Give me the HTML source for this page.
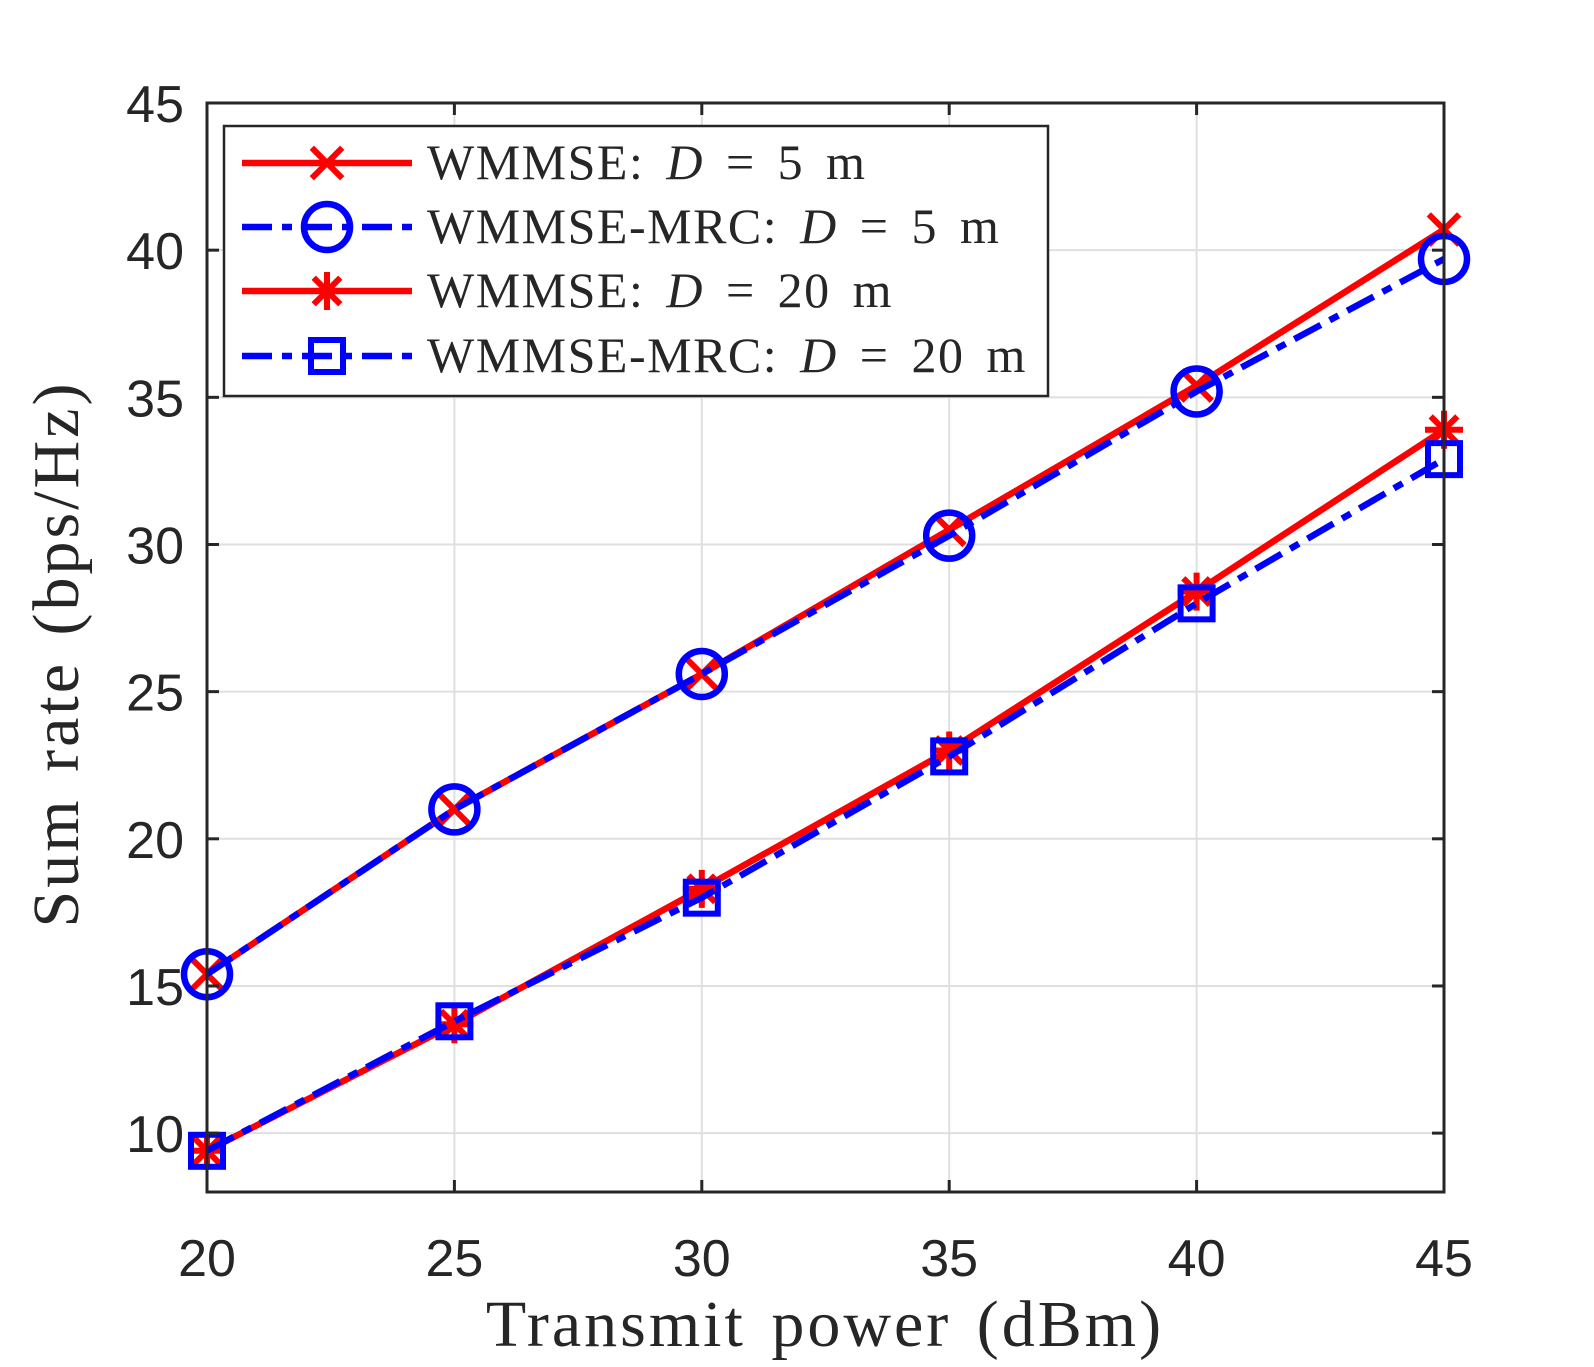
<!DOCTYPE html>
<html><head><meta charset="utf-8"><style>
html,body{margin:0;padding:0;background:#fff;}
svg{display:block;}
</style></head><body>
<svg id="chart" width="1594" height="1367" viewBox="0 0 1594 1367" xmlns="http://www.w3.org/2000/svg">
<rect width="1594" height="1367" fill="#fff"/>
<g id="grid"></g>
<g id="series"></g>
<rect x="207" y="103" width="1237" height="1089" fill="none" stroke="#262626" stroke-width="3"/>
<g id="ticks"></g>
<text x="825" y="1346" text-anchor="middle" font-family="Liberation Serif, serif" font-size="66" letter-spacing="3" word-spacing="6" fill="#262626">Transmit power (dBm)</text>
<text transform="translate(78,654) rotate(-90)" text-anchor="middle" font-family="Liberation Serif, serif" font-size="66" letter-spacing="3" word-spacing="6" fill="#262626">Sum rate (bps/Hz)</text>
<g id="legend"></g>
</svg>
<script>
const xValues=[20,25,30,35,40,45];
const wmmse5=[15.4,21.0,25.6,30.5,35.4,40.7];
const mrc5=[15.4,21.0,25.6,30.3,35.2,39.7];
const wmmse20=[9.4,13.7,18.3,23.0,28.4,33.9];
const mrc20=[9.4,13.8,18.0,22.8,28.0,32.9];
const xTicks=[20,25,30,35,40,45];
const yTicks=[10,15,20,25,30,35,40,45];
const seriesNames=["WMMSE: ","WMMSE-MRC: ","WMMSE: ","WMMSE-MRC: "];
const seriesD=["5","5","20","20"];

const L=207,R=1444,T=103,B=1192,XMIN=20,XMAX=45,YMIN=8,YMAX=45;
const sx=v=>L+(v-XMIN)/(XMAX-XMIN)*(R-L);
const sy=v=>B-(v-YMIN)/(YMAX-YMIN)*(B-T);
const NS="http://www.w3.org/2000/svg";
function mk(tag,attrs,parent){const e=document.createElementNS(NS,tag);for(const k in attrs)e.setAttribute(k,attrs[k]);parent.appendChild(e);return e;}
const grid=document.getElementById('grid'),ticks=document.getElementById('ticks'),ser=document.getElementById('series'),leg=document.getElementById('legend');
xTicks.forEach(v=>{
 const g=mk('line',{x1:sx(v),x2:sx(v),y1:T,y2:B,stroke:'#dfdfdf','stroke-width':2},grid);
 
 
 mk('line',{x1:sx(v),x2:sx(v),y1:B,y2:B-12,stroke:'#262626','stroke-width':3},ticks);
 mk('line',{x1:sx(v),x2:sx(v),y1:T,y2:T+12,stroke:'#262626','stroke-width':3},ticks);
 const t=mk('text',{x:sx(v),y:1276,'text-anchor':'middle','font-family':'Liberation Sans, sans-serif','font-size':52,fill:'#262626'},ticks);
 t.textContent=v;
 
 
});
yTicks.forEach(v=>{
 const g=mk('line',{x1:L,x2:R,y1:sy(v),y2:sy(v),stroke:'#dfdfdf','stroke-width':2},grid);
 
 
 mk('line',{x1:L,x2:L+12,y1:sy(v),y2:sy(v),stroke:'#262626','stroke-width':3},ticks);
 mk('line',{x1:R,x2:R-12,y1:sy(v),y2:sy(v),stroke:'#262626','stroke-width':3},ticks);
 const t=mk('text',{x:184,y:sy(v)+19,'text-anchor':'end','font-family':'Liberation Sans, sans-serif','font-size':52,fill:'#262626'},ticks);
 t.textContent=v;
 
 
});
function marker(type,x,y,color,parent){
 const s=19;
 if(type==='x'){mk('path',{d:`M${x-s*.8},${y-s*.8}L${x+s*.8},${y+s*.8}M${x-s*.8},${y+s*.8}L${x+s*.8},${y-s*.8}`,stroke:color,'stroke-width':6,fill:'none'},parent);}
 else if(type==='o'){mk('circle',{cx:x,cy:y,r:23,stroke:color,'stroke-width':6.5,fill:'none'},parent);}
 else if(type==='*'){mk('path',{d:`M${x},${y-s}L${x},${y+s}M${x-s},${y}L${x+s},${y}M${x-s*.7},${y-s*.7}L${x+s*.7},${y+s*.7}M${x-s*.7},${y+s*.7}L${x+s*.7},${y-s*.7}`,stroke:color,'stroke-width':6,fill:'none'},parent);}
 else {mk('rect',{x:x-16,y:y-16,width:32,height:32,stroke:color,'stroke-width':6,fill:'none'},parent);}
}
const DASH='30 10 10 10';
const defs=[[wmmse5,'#ff0000','x',null],[wmmse20,'#ff0000','*',null],[mrc5,'#0000ff','o',DASH],[mrc20,'#0000ff','s',DASH]];
const names=['series-wmmse-5m','series-wmmse-20m','series-mrc-5m','series-mrc-20m'];
defs.forEach((d,i)=>{
 const g=mk('g',{},ser);
 
 
 const pts=d[0].map((v,j)=>sx(xValues[j])+','+sy(v)).join(' ');
 const pl=mk('polyline',{points:pts,fill:'none',stroke:d[1],'stroke-width':6.5},g);
 if(d[3])pl.setAttribute('stroke-dasharray',d[3]);
 d[0].forEach((v,j)=>marker(d[2],sx(xValues[j]),sy(v),d[1],g));
});
const box=mk('rect',{x:224,y:126,width:824,height:270,fill:'#fff',stroke:'#262626','stroke-width':2.5},leg);


const legStyle=[['#ff0000','x',null],['#0000ff','o',DASH],['#ff0000','*',null],['#0000ff','s',DASH]];
const rows=[163,227,291,356];
legStyle.forEach((s,i)=>{
 const g=mk('g',{},leg);
 
 
 const ln=mk('line',{x1:242,x2:412,y1:rows[i],y2:rows[i],stroke:s[0],'stroke-width':6.5},g);
 if(s[2])ln.setAttribute('stroke-dasharray',s[2]);
 marker(s[1],327,rows[i],s[0],g);
 const t=mk('text',{x:427,y:rows[i]+16,'font-family':'Liberation Serif, serif','font-size':50,'letter-spacing':1.5,'word-spacing':8,fill:'#262626'},g);
 t.innerHTML=seriesNames[i]+'<tspan font-style="italic">D</tspan> = '+seriesD[i]+' m';
});
</script>
</body></html>
